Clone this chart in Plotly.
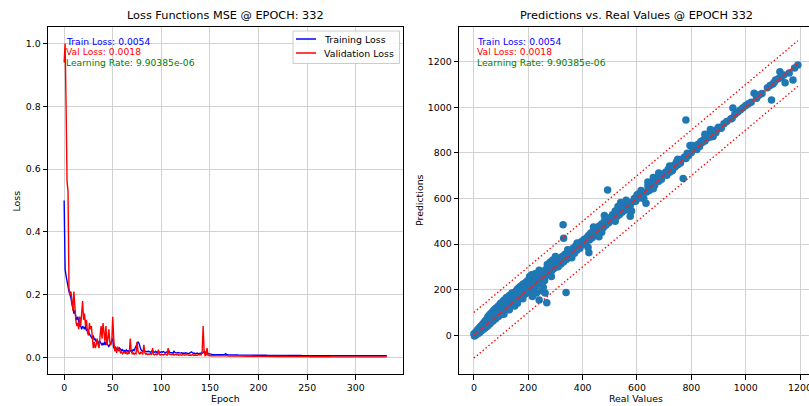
import plotly.graph_objects as go

# ---------------- data: loss curves ----------------
train_loss = [
    0.50, 0.28, 0.26, 0.24, 0.22, 0.21, 0.20, 0.19, 0.17, 0.16,
    0.14, 0.15, 0.13, 0.12, 0.13, 0.11, 0.10, 0.10, 0.09, 0.10,
    0.095, 0.09, 0.10, 0.085, 0.09, 0.08, 0.075, 0.07, 0.065, 0.06,
    0.07, 0.055, 0.06, 0.05, 0.055, 0.05, 0.045, 0.05, 0.045, 0.04,
    0.045, 0.04, 0.05, 0.04, 0.045, 0.04, 0.035, 0.04, 0.05, 0.055,
    0.06, 0.03, 0.035, 0.03, 0.028, 0.03, 0.025, 0.03, 0.025, 0.022,
    0.025, 0.02, 0.022, 0.02, 0.024, 0.02, 0.021, 0.019, 0.02, 0.022,
    0.02, 0.025, 0.022, 0.03, 0.035, 0.04, 0.05, 0.045, 0.03, 0.025,
    0.022, 0.02, 0.021, 0.019, 0.02, 0.018, 0.019, 0.02, 0.018, 0.017,
    0.02, 0.022, 0.018, 0.017, 0.02, 0.016, 0.018, 0.019, 0.017, 0.016,
    0.018, 0.017, 0.019, 0.016, 0.015, 0.017, 0.018, 0.016, 0.02, 0.015,
    0.016, 0.015, 0.014, 0.02, 0.016, 0.015, 0.014, 0.016, 0.015, 0.013,
    0.014, 0.015, 0.013, 0.014, 0.013, 0.015, 0.014, 0.013, 0.012, 0.014,
    0.016, 0.018, 0.015, 0.013, 0.014, 0.012, 0.013, 0.014, 0.012, 0.013,
    0.012, 0.013, 0.014, 0.015, 0.02, 0.018, 0.012, 0.011, 0.013, 0.012,
    0.010, 0.009, 0.0095, 0.009, 0.0092, 0.0088, 0.009, 0.0087, 0.0089, 0.0086,
    0.0088, 0.0085, 0.0087, 0.0084, 0.0086, 0.009, 0.012, 0.0095, 0.0085, 0.0083,
    0.0085, 0.0082, 0.0084, 0.0081, 0.0083, 0.0080, 0.0082, 0.0079, 0.0081, 0.0078,
    0.0079, 0.0077, 0.0078, 0.0076, 0.0077, 0.0075, 0.0076, 0.0074, 0.0075, 0.0073,
    0.0074, 0.0073, 0.0072, 0.0074, 0.0071, 0.0072, 0.0073, 0.0070, 0.0071, 0.0070,
    0.0071, 0.0069, 0.0070, 0.0068, 0.0070, 0.0069, 0.0067, 0.0068, 0.0069, 0.0066,
    0.0068, 0.0067, 0.0066, 0.0068, 0.0065, 0.0067, 0.0066, 0.0065, 0.0067, 0.0064,
    0.0066, 0.0065, 0.0064, 0.0066, 0.0063, 0.0065, 0.0064, 0.0063, 0.0065, 0.0062,
    0.0064, 0.0063, 0.0062, 0.0064, 0.0061, 0.0063, 0.0062, 0.0061, 0.0063, 0.0060,
    0.0062, 0.0061, 0.0060, 0.0062, 0.0061, 0.0060, 0.0059, 0.0061, 0.0060, 0.0059,
    0.0061, 0.0060, 0.0059, 0.0060, 0.0058, 0.0060, 0.0059, 0.0058, 0.0060, 0.0058,
    0.0059, 0.0058, 0.0057, 0.0059, 0.0058, 0.0057, 0.0059, 0.0057, 0.0058, 0.0056,
    0.0058, 0.0057, 0.0056, 0.0058, 0.0057, 0.0056, 0.0057, 0.0055, 0.0057, 0.0056,
    0.0057, 0.0056, 0.0055, 0.0057, 0.0056, 0.0055, 0.0056, 0.0055, 0.0054, 0.0056,
    0.0055, 0.0056, 0.0054, 0.0055, 0.0056, 0.0054, 0.0055, 0.0054, 0.0056, 0.0055,
    0.0054, 0.0055, 0.0056, 0.0054, 0.0055, 0.0054, 0.0055, 0.0053, 0.0055, 0.0054,
    0.0055, 0.0054, 0.0053, 0.0055, 0.0054, 0.0055, 0.0053, 0.0054, 0.0055, 0.0054,
    0.0053, 0.0055, 0.0054, 0.0053, 0.0055, 0.0054, 0.0053, 0.0054, 0.0055, 0.0053,
    0.0054, 0.0055, 0.0054,
]

val_loss = [
    0.94, 1.00, 0.80, 0.56, 0.53, 0.22, 0.20, 0.21, 0.18, 0.15,
    0.21, 0.14, 0.12, 0.10, 0.11, 0.09, 0.13, 0.10, 0.16, 0.18,
    0.12, 0.14, 0.10, 0.12, 0.08, 0.07, 0.11, 0.09, 0.10, 0.06,
    0.03, 0.05, 0.03, 0.04, 0.06, 0.04, 0.03, 0.07, 0.10, 0.06,
    0.11, 0.08, 0.05, 0.10, 0.04, 0.06, 0.09, 0.05, 0.04, 0.05,
    0.13, 0.06, 0.02, 0.03, 0.015, 0.035, 0.02, 0.025, 0.015, 0.018,
    0.012, 0.015, 0.02, 0.012, 0.018, 0.01, 0.015, 0.012, 0.06, 0.02,
    0.012, 0.015, 0.01, 0.014, 0.012, 0.05, 0.02, 0.015, 0.01, 0.018,
    0.012, 0.01, 0.04, 0.015, 0.01, 0.012, 0.009, 0.011, 0.01, 0.012,
    0.009, 0.03, 0.01, 0.008, 0.011, 0.009, 0.01, 0.025, 0.009, 0.008,
    0.01, 0.009, 0.008, 0.01, 0.012, 0.009, 0.008, 0.03, 0.01, 0.009,
    0.008, 0.009, 0.012, 0.008, 0.01, 0.009, 0.008, 0.01, 0.007, 0.009,
    0.008, 0.007, 0.009, 0.008, 0.007, 0.009, 0.008, 0.007, 0.008, 0.007,
    0.008, 0.007, 0.009, 0.007, 0.008, 0.007, 0.008, 0.007, 0.009, 0.008,
    0.007, 0.008, 0.02, 0.10, 0.02, 0.006, 0.008, 0.03, 0.007, 0.006,
    0.0060, 0.0055, 0.0058, 0.0054, 0.0057, 0.0053, 0.0056, 0.0052, 0.0055, 0.0051,
    0.0054, 0.0050, 0.0053, 0.0049, 0.0052, 0.0050, 0.0060, 0.0051, 0.0049, 0.0048,
    0.0050, 0.0047, 0.0049, 0.0046, 0.0048, 0.0052, 0.0047, 0.0045, 0.0047, 0.0044,
    0.0046, 0.0043, 0.0045, 0.0042, 0.0044, 0.0041, 0.0043, 0.0040, 0.0042, 0.0039,
    0.0041, 0.0039, 0.0040, 0.0038, 0.0040, 0.0037, 0.0039, 0.0037, 0.0038, 0.0036,
    0.0038, 0.0036, 0.0037, 0.0035, 0.0037, 0.0035, 0.0036, 0.0034, 0.0036, 0.0034,
    0.0035, 0.0033, 0.0035, 0.0033, 0.0034, 0.0032, 0.0034, 0.0032, 0.0033, 0.0031,
    0.0033, 0.0031, 0.0032, 0.0030, 0.0032, 0.0030, 0.0031, 0.0029, 0.0031, 0.0029,
    0.0030, 0.0029, 0.0030, 0.0028, 0.0030, 0.0028, 0.0029, 0.0027, 0.0029, 0.0027,
    0.0028, 0.0027, 0.0028, 0.0026, 0.0028, 0.0026, 0.0027, 0.0026, 0.0027, 0.0025,
    0.0027, 0.0025, 0.0026, 0.0025, 0.0026, 0.0024, 0.0026, 0.0024, 0.0025, 0.0024,
    0.0025, 0.0023, 0.0025, 0.0023, 0.0024, 0.0023, 0.0024, 0.0022, 0.0024, 0.0022,
    0.0023, 0.0022, 0.0023, 0.0022, 0.0023, 0.0021, 0.0023, 0.0021, 0.0022, 0.0021,
    0.0022, 0.0021, 0.0022, 0.0020, 0.0022, 0.0020, 0.0021, 0.0020, 0.0021, 0.0020,
    0.0021, 0.0020, 0.0021, 0.0019, 0.0021, 0.0019, 0.0020, 0.0019, 0.0020, 0.0019,
    0.0020, 0.0019, 0.0020, 0.0019, 0.0020, 0.0018, 0.0020, 0.0018, 0.0019, 0.0018,
    0.0019, 0.0018, 0.0019, 0.0018, 0.0019, 0.0018, 0.0019, 0.0018, 0.0019, 0.0018,
    0.0019, 0.0018, 0.0019, 0.0018, 0.0019, 0.0018, 0.0018, 0.0019, 0.0018, 0.0018,
    0.0019, 0.0018, 0.0018,
]
epochs = list(range(len(train_loss)))

# ---------------- data: predictions vs real ----------------
real_values = [
    0, 2, 4, 5, 8, 10, 12, 14, 15, 18, 20, 22, 24, 25, 28, 30, 32, 34, 35, 38, 40, 42, 44, 45, 48, 50, 50,
    52, 54, 56, 58, 60, 62, 64, 66, 68, 70, 72, 74, 76, 78, 80, 82, 84, 86, 88, 90, 92, 94, 96, 98, 100,
    102, 104, 106, 108, 110, 112, 114, 116, 118, 120, 122, 124, 126, 128, 130, 132, 134, 136, 138, 140,
    142, 144, 146, 148, 150, 110, 130, 150, 120, 140,
    152, 154, 156, 158, 160, 162, 164, 166, 168, 170, 172, 174, 176, 178, 180, 182, 184, 186, 188, 190,
    192, 194, 196, 198, 200, 170, 185, 160, 180,
    202, 205, 208, 210, 212, 215, 218, 220, 222, 225, 228, 230, 232, 235, 238, 240, 242, 245, 248, 250,
    252, 255, 258, 260, 205, 212, 225, 240, 262, 268, 255,
    262, 265, 268, 270, 272, 275, 278, 280, 282, 285, 288, 290, 292, 295, 298, 300, 270, 285,
    305, 310, 315, 320, 328, 330, 339, 325, 330, 335, 340, 345, 350, 355, 360, 365, 370, 375, 380, 385,
    390, 395, 400, 345, 360, 380, 290, 300, 280,
    405, 410, 415, 423, 420, 422, 425, 430, 435, 440, 445, 450, 455, 460, 465, 470, 475, 480, 485, 492,
    490, 495, 500, 440, 470, 480, 460,
    505, 510, 515, 520, 525, 530, 535, 540, 545, 550, 555, 560, 565, 570, 575, 580, 585, 590, 595, 600,
    520, 540, 560, 575, 530, 550,
    605, 610, 615, 620, 625, 633, 635, 640, 645, 650, 655, 660, 665, 670, 675, 680, 685, 690, 695, 700,
    640, 660, 680,
    705, 710, 715, 720, 725, 730, 735, 740, 745, 750, 755, 760, 765, 770, 780, 775, 780, 785, 790, 795,
    800, 720, 750,
    805, 810, 815, 820, 825, 830, 835, 840, 845, 850, 855, 860, 865, 870, 875, 880, 885, 890, 895, 900,
    850, 870,
    910, 920, 930, 953, 950, 960, 970, 980, 990, 1000, 945,
    1010, 1020, 1031, 1040, 1045, 1050, 1060, 1080, 1095, 1090, 1100, 1105, 1110, 1126, 1120, 1130,
    1140, 1145, 1160, 1174, 1180, 1192,
]
predictions = [
    5, -3, 10, 0, 14, 4, 20, 8, 26, 10, 32, 14, 38, 18, 22, 45, 24, 52, 28, 30, 60, 34, 66, 36, 42, 75, 40,
    82, 46, 58, 90, 52, 95, 60, 75, 102, 62, 108, 70, 88, 115, 72, 120, 80, 98, 125, 82, 130, 90, 110, 140, 92,
    140, 100, 120, 150, 104, 155, 110, 130, 160, 112, 165, 120, 140, 170, 122, 175, 130, 150, 178, 132,
    182, 140, 160, 188, 142, 92, 112, 128, 165, 185,
    190, 148, 168, 198, 152, 205, 160, 180, 210, 162, 215, 170, 190, 220, 172, 225, 180, 200, 228, 182,
    232, 190, 210, 240, 192, 200, 215, 140, 160,
    230, 195, 215, 245, 205, 170, 250, 210, 235, 262, 215, 185, 240, 268, 228, 155, 255, 275, 245, 195,
    262, 280, 255, 240, 258, 265, 270, 285, 185, 142, 210,
    285, 265, 292, 268, 280, 300, 275, 285, 305, 282, 295, 315, 290, 305, 322, 298, 310, 258,
    320, 300, 330, 312, 485, 425, 187, 345, 322, 355, 332, 362, 342, 372, 352, 382, 360, 392, 374, 398,
    382, 410, 398, 375, 340, 405, 330, 345, 320,
    420, 402, 428, 362, 385, 438, 418, 448, 428, 455, 440, 468, 448, 478, 458, 488, 470, 500, 482, 637,
    505, 492, 515, 475, 452, 525, 432,
    502, 528, 512, 545, 520, 550, 528, 570, 540, 575, 548, 565, 552, 580, 568, 545, 585, 600, 588, 615,
    500, 582, 592, 522, 565, 555,
    620, 602, 635, 615, 600, 579, 628, 655, 635, 668, 648, 692, 658, 685, 695, 675, 698, 684, 702, 708,
    672, 642, 712,
    715, 702, 728, 715, 733, 722, 745, 738, 760, 748, 763, 755, 772, 688, 944, 782, 775, 798, 788, 832,
    802, 742, 772,
    832, 818, 822, 815, 838, 828, 850, 845, 858, 852, 872, 865, 878, 870, 882, 872, 898, 888, 902, 912,
    882, 902,
    908, 928, 938, 997, 952, 968, 978, 988, 998, 1008, 948,
    1015, 1022, 1061, 1040, 1050, 1055, 1060, 1085, 1032, 1095, 1102, 1110, 1120, 1156, 1125, 1130,
    1142, 1108, 1150, 1120, 1172, 1185,
]
tolerance = 100
epoch_label = 332
train_text = "Train Loss: 0.0054"
val_text = "Val Loss: 0.0018"
lr_text = "Learning Rate: 9.90385e-06"
legend_names = ["Training Loss", "Validation Loss"]
legend_colors = ["blue", "red"]

# ---------------- figure ----------------
W, H = 809, 406
FONT = "DejaVu Sans"
TICK = 9.4


def px_x(p):
    return p / W


def px_y(p):
    return 1 - p / H


L1, R1 = 48, 403
L2, R2 = 459, 809
TOP, BOT = 27, 374

fig = go.Figure()
fig.add_trace(go.Scatter(x=epochs, y=train_loss, mode="lines", name=legend_names[0], showlegend=False,
                         line=dict(color=legend_colors[0], width=1.4), xaxis="x", yaxis="y"))
fig.add_trace(go.Scatter(x=epochs, y=val_loss, mode="lines", name=legend_names[1], showlegend=False,
                         line=dict(color=legend_colors[1], width=1.4), xaxis="x", yaxis="y"))

fig.add_trace(go.Scatter(x=real_values, y=predictions, mode="markers", showlegend=False,
                         marker=dict(color="#1f77b4", size=7.5, line=dict(width=0)),
                         xaxis="x2", yaxis="y2"))
lo, hi = min(real_values), max(real_values)
fig.add_trace(go.Scatter(x=[lo, hi], y=[lo, hi], mode="lines", showlegend=False,
                         line=dict(color="#e8262a", width=1.5, dash="5.5px,2.4px"),
                         xaxis="x2", yaxis="y2"))
for sgn in (1, -1):
    fig.add_trace(go.Scatter(x=[lo, hi], y=[lo + sgn * tolerance, hi + sgn * tolerance],
                             mode="lines", showlegend=False,
                             line=dict(color="red", width=1.4, dash="1.4px,2.4px"),
                             xaxis="x2", yaxis="y2"))

axis_common = dict(showline=True, linecolor="black", linewidth=1, ticks="outside",
                   ticklen=4.5, tickwidth=1, tickcolor="black", showgrid=True,
                   gridcolor="#d2d2d2", gridwidth=1, zeroline=False, ticklabeloverflow="allow",
                   tickfont=dict(family=FONT, size=TICK, color="black"), automargin=False)

fig.update_layout(
    width=W, height=H,
    margin=dict(l=0, r=0, t=0, b=0),
    paper_bgcolor="white", plot_bgcolor="white",
    font=dict(family=FONT, size=TICK, color="black"),
    xaxis=dict(domain=[px_x(L1), px_x(R1)], range=[-16.6, 348.6],
               tickvals=[0, 50, 100, 150, 200, 250, 300], mirror=True, anchor="y", **axis_common),
    yaxis=dict(domain=[px_y(BOT), px_y(TOP)], range=[-0.0526, 1.0526],
               tickvals=[0.0, 0.2, 0.4, 0.6, 0.8, 1.0], ticktext=["0.0", "0.2", "0.4", "0.6", "0.8", "1.0"],
               mirror=True, anchor="x", **axis_common),
    xaxis2=dict(domain=[px_x(L2), px_x(R2)], range=[-55, 1233],
                tickvals=[0, 200, 400, 600, 800, 1000, 1200], mirror=True, anchor="y2", **axis_common),
    yaxis2=dict(domain=[px_y(BOT), px_y(TOP)], range=[-170, 1352],
                tickvals=[0, 200, 400, 600, 800, 1000, 1200], mirror=False, anchor="x2", **axis_common),
    showlegend=False,
    hovermode=False,
)

# legend box (drawn like matplotlib's, inside the loss axes, upper right)
shapes = [dict(type="rect", xref="paper", yref="paper", layer="above",
               x0=px_x(293), x1=px_x(399.5), y0=px_y(63.5), y1=px_y(31),
               line=dict(color="#cccccc", width=1), fillcolor="rgba(255,255,255,0.85)")]
ann = []
for i, (nm, col) in enumerate(zip(legend_names, legend_colors)):
    yc = 39 + 14 * i
    shapes.append(dict(type="line", xref="paper", yref="paper", layer="above",
                       x0=px_x(296), x1=px_x(316), y0=px_y(yc), y1=px_y(yc),
                       line=dict(color=col, width=1.5)))
    ann.append(dict(text=nm, x=px_x(321.5), y=px_y(yc), xanchor="left"))

# titles
ann.append(dict(text=f"Loss Functions MSE @ EPOCH: {epoch_label}", x=px_x((L1 + R1) / 2), y=px_y(16),
                font=dict(size=11.3)))
ann.append(dict(text=f"Predictions vs. Real Values @ EPOCH {epoch_label}", x=px_x(636), y=px_y(16),
                font=dict(size=11.3)))
# axis labels
ann.append(dict(text="Epoch", x=px_x((L1 + R1) / 2), y=px_y(398)))
ann.append(dict(text="Real Values", x=px_x(636), y=px_y(398)))
ann.append(dict(text="Loss", x=px_x(16), y=px_y((TOP + BOT) / 2), textangle=-90))
ann.append(dict(text="Predictions", x=px_x(419.5), y=px_y((TOP + BOT) / 2), textangle=-90))
# info text
for xl in (63.5, 474.5):
    for txt, col, yc in ((train_text, "blue", 41), (val_text, "red", 51.5), (lr_text, "green", 62)):
        ann.append(dict(text=txt, x=px_x(xl), y=px_y(yc), xanchor="left",
                        font=dict(size=9.2, color=col)))

for a in ann:
    a.setdefault("xanchor", "center")
    a.setdefault("yanchor", "middle")
    a.update(xref="paper", yref="paper", showarrow=False)
    f = a.get("font", {})
    f.setdefault("family", FONT)
    f.setdefault("size", TICK)
    f.setdefault("color", "black")
    a["font"] = f
fig.update_layout(annotations=ann, shapes=shapes)

fig.write_html("out.html", config={"displayModeBar": False})
